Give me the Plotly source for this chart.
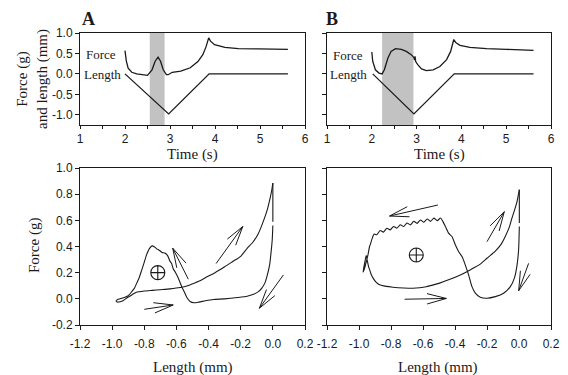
import math
import plotly.graph_objects as go

W, H = 568, 375

# ---------------- tick labels ----------------
time_ticks = [1, 2, 3, 4, 5, 6]
time_ticklabels = ["1", "2", "3", "4", "5", "6"]
top_y_ticks = [-1.0, -0.5, 0.0, 0.5, 1.0]
top_y_ticklabels = ["-1.0", "-0.5", "0.0", "0.5", "1.0"]
len_ticks = [-1.2, -1.0, -0.8, -0.6, -0.4, -0.2, 0.0, 0.2]
len_ticklabels = ["-1.2", "-1.0", "-0.8", "-0.6", "-0.4", "-0.2", "0.0", "0.2"]
force_ticks = [-0.2, 0.0, 0.2, 0.4, 0.6, 0.8, 1.0]
force_ticklabels = ["-0.2", "0.0", "0.2", "0.4", "0.6", "0.8", "1.0"]

# ---------------- panel A time series ----------------
tA_force = [2.0, 2.03, 2.07, 2.15, 2.26, 2.41, 2.5, 2.6, 2.67, 2.735, 2.79, 2.85,
            2.92, 2.96, 3.05, 3.24, 3.45, 3.62, 3.73, 3.8, 3.86, 3.9, 3.99, 4.22,
            4.52, 4.97, 5.62]
A_force = [0.57, 0.31, 0.14, 0.04, 0.0, -0.02, -0.035, 0.1, 0.31, 0.41, 0.31, 0.1,
           -0.02, -0.02, 0.04, 0.07, 0.15, 0.3, 0.47, 0.66, 0.88, 0.8, 0.715, 0.65,
           0.62, 0.61, 0.6]
tA_length = [2.0, 2.97, 3.87, 5.62]
A_length = [0.0, -0.98, 0.0, 0.0]
A_shade = [2.55, 2.88]

# ---------------- panel B time series ----------------
tB_force = [2.0, 2.02, 2.08, 2.16, 2.23, 2.28, 2.36, 2.43, 2.53, 2.66, 2.77, 2.88,
            2.94, 2.955, 2.965, 2.98, 3.03, 3.11, 3.22, 3.37, 3.52, 3.67, 3.76,
            3.83, 3.88, 3.97, 4.19, 4.56, 5.01, 5.61]
B_force = [0.535, 0.31, 0.1, 0.02, 0.0, 0.1, 0.39, 0.55, 0.617, 0.6, 0.55, 0.47,
           0.40, 0.34, 0.43, 0.3, 0.22, 0.12, 0.08, 0.1, 0.18, 0.35, 0.55,
           0.84, 0.76, 0.70, 0.65, 0.617, 0.60, 0.575]
tB_length = [2.02, 2.94, 3.84, 5.61]
B_length = [0.0, -0.98, 0.0, 0.0]
B_shade = [2.23, 2.93]

# ---------------- work loops (force vs length) ----------------
loopA_length = [0.0, -0.004, -0.01, -0.02, -0.035, -0.05, -0.07, -0.09, -0.12, -0.16,
                -0.22, -0.3, -0.37, -0.42, -0.46, -0.49, -0.515, -0.535, -0.55, -0.567,
                -0.588, -0.605, -0.62, -0.63, -0.641, -0.655, -0.672, -0.69, -0.705,
                -0.72, -0.735, -0.75, -0.765, -0.785, -0.80, -0.816, -0.832, -0.847,
                -0.862, -0.878, -0.895, -0.91, -0.93, -0.951, -0.965, -0.975,
                -0.968, -0.95, -0.93, -0.905, -0.878, -0.85, -0.8, -0.75, -0.7, -0.64,
                -0.577, -0.53, -0.494, -0.45, -0.41, -0.36, -0.3, -0.25, -0.2, -0.16,
                -0.12, -0.09, -0.06, -0.035, -0.017, -0.007, 0.0, 0.0]
loopA_force = [0.56, 0.45, 0.37, 0.26, 0.18, 0.12, 0.08, 0.055, 0.035, 0.02,
               0.01, 0.0, -0.005, -0.015, -0.025, -0.03, -0.02, 0.01, 0.05, 0.093,
               0.158, 0.2, 0.23, 0.27, 0.29, 0.33, 0.35, 0.355, 0.37,
               0.38, 0.395, 0.405, 0.39, 0.34, 0.28, 0.22, 0.16, 0.12,
               0.08, 0.055, 0.03, 0.017, 0.008, 0.0, -0.005, -0.015,
               -0.025, -0.022, -0.012, 0.01, 0.03, 0.05, 0.06, 0.065, 0.07, 0.076,
               0.086, 0.1, 0.118, 0.14, 0.168, 0.2, 0.245, 0.285, 0.325, 0.385,
               0.44, 0.5, 0.59, 0.68, 0.77, 0.83, 0.885, 0.59]

loopB_length = [0.002, -0.002, -0.012, -0.029, -0.054, -0.096, -0.148, -0.2, -0.242,
                -0.273, -0.294, -0.315, -0.336, -0.356, -0.377, -0.398, -0.419, -0.44,
                -0.46, -0.475,
                -0.49, -0.511, -0.532, -0.553, -0.574, -0.595, -0.616, -0.637, -0.658,
                -0.679, -0.70, -0.721, -0.742, -0.763, -0.784, -0.805, -0.826, -0.847,
                -0.868, -0.889, -0.905, -0.918,
                -0.928, -0.934, -0.944, -0.955, -0.966, -0.975,
                -0.962, -0.955, -0.948, -0.94, -0.933, -0.925, -0.912, -0.895, -0.871,
                -0.83, -0.788, -0.72, -0.663, -0.62, -0.579, -0.54, -0.496, -0.44,
                -0.367, -0.3, -0.242, -0.2, -0.148, -0.11, -0.086, -0.06, -0.044,
                -0.025, -0.012, 0.002, 0.002]
loopB_force = [0.553, 0.387, 0.26, 0.158, 0.093, 0.043, 0.017, 0.005, 0.012,
               0.043, 0.093, 0.183, 0.26, 0.323, 0.36, 0.413, 0.476, 0.502,
               0.553, 0.59,
               0.618, 0.598, 0.617, 0.592, 0.61, 0.585, 0.603, 0.577, 0.593,
               0.565, 0.58, 0.553, 0.566, 0.54, 0.553, 0.527, 0.54, 0.51,
               0.522, 0.49, 0.495, 0.46,
               0.42, 0.40, 0.336, 0.28, 0.23, 0.205,
               0.29, 0.33, 0.29, 0.245, 0.221, 0.19, 0.158, 0.13, 0.107,
               0.095, 0.089, 0.083, 0.081, 0.085, 0.093, 0.105, 0.12, 0.145,
               0.183, 0.225, 0.265, 0.31, 0.365, 0.42, 0.476, 0.55, 0.617,
               0.69, 0.745, 0.834, 0.58]

# positive work marker (circled plus)
A_plus = (-0.716, 0.2)
B_plus = (-0.642, 0.335)

# direction arrows: (tail length, tail force, head length, head force)
A_arrows = [(-0.80, -0.08, -0.62, -0.047),
            (-0.526, 0.15, -0.623, 0.387),
            (-0.353, 0.27, -0.187, 0.553),
            (0.066, 0.183, -0.084, -0.072)]
B_arrows = [(-0.715, -0.003, -0.454, 0.003),
            (-0.507, 0.717, -0.809, 0.633),
            (-0.2, 0.437, -0.092, 0.666),
            (0.06, 0.271, -0.002, 0.062)]

# ---------------- layout geometry (pixels) ----------------
XA = (80, 305)
XB = (327, 551)
YTOP = (33, 125)
YBOT = (168, 325)

def xdom(p):
    return [p[0] / W, p[1] / W]

def ydom(p):
    return [1 - p[1] / H, 1 - p[0] / H]

def px(x):
    return x / W

def py(y):
    return 1 - y / H

INK = "#1a1a1a"
SANS = "Liberation Sans, Arial, sans-serif"
SERIF = "Liberation Serif, Times New Roman, serif"

fig = go.Figure()

line_style = dict(color=INK, width=1.3)
loop_style = dict(color=INK, width=1.1, shape="spline", smoothing=0.6)

# time series
fig.add_trace(go.Scatter(x=tA_force, y=A_force, mode="lines", line=line_style, xaxis="x", yaxis="y"))
fig.add_trace(go.Scatter(x=tA_length, y=A_length, mode="lines", line=line_style, xaxis="x", yaxis="y"))
fig.add_trace(go.Scatter(x=tB_force, y=B_force, mode="lines", line=line_style, xaxis="x2", yaxis="y2"))
fig.add_trace(go.Scatter(x=tB_length, y=B_length, mode="lines", line=line_style, xaxis="x2", yaxis="y2"))

# loops
fig.add_trace(go.Scatter(x=loopA_length[:-1], y=loopA_force[:-1], mode="lines", line=loop_style, xaxis="x3", yaxis="y3"))
fig.add_trace(go.Scatter(x=loopB_length[:-1], y=loopB_force[:-1], mode="lines", line=loop_style, xaxis="x4", yaxis="y4"))
# relaxation segment at end of lengthening
fig.add_trace(go.Scatter(x=loopA_length[-2:], y=loopA_force[-2:], mode="lines", line=dict(color=INK, width=1.1), xaxis="x3", yaxis="y3"))
fig.add_trace(go.Scatter(x=loopB_length[-2:], y=loopB_force[-2:], mode="lines", line=dict(color=INK, width=1.1), xaxis="x4", yaxis="y4"))

# circled plus
for xa, ya, pt in (("x3", "y3", A_plus), ("x4", "y4", B_plus)):
    fig.add_trace(go.Scatter(x=[pt[0]], y=[pt[1]], mode="markers",
                             marker=dict(symbol="circle-cross-open", size=14, color=INK, line=dict(width=1.1)),
                             xaxis=xa, yaxis=ya))

# arrows drawn as shaft + two long barbs
len_range = [-1.2, 0.2]
force_range = [-0.2, 1.0]

def arrow_xy(arrows, xpix, ypix, blen=20.0, ang=math.radians(15)):
    sx = (xpix[1] - xpix[0]) / (len_range[1] - len_range[0])
    sy = (ypix[1] - ypix[0]) / (force_range[1] - force_range[0])
    xs, ys = [], []
    for tx, ty, hx, hy in arrows:
        th = math.atan2((hy - ty) * sy, (hx - tx) * sx)
        xs += [tx, hx, None]
        ys += [ty, hy, None]
        for s in (1, -1):
            a = th + math.pi + s * ang
            xs += [hx + blen * math.cos(a) / sx, hx, None]
            ys += [hy + blen * math.sin(a) / sy, hy, None]
    return xs, ys

ax_, ay_ = arrow_xy(A_arrows, XA, YBOT)
fig.add_trace(go.Scatter(x=ax_, y=ay_, mode="lines", line=dict(color=INK, width=1), xaxis="x3", yaxis="y3"))
bx_, by_ = arrow_xy(B_arrows, XB, YBOT)
fig.add_trace(go.Scatter(x=bx_, y=by_, mode="lines", line=dict(color=INK, width=1), xaxis="x4", yaxis="y4"))

# shaded stimulation windows
for xr, yr, sh in (("x", "y", A_shade), ("x2", "y2", B_shade)):
    fig.add_shape(type="rect", xref=xr, yref=yr + " domain", x0=sh[0], x1=sh[1], y0=0, y1=1,
                  fillcolor="#c2c2c2", line=dict(width=0), layer="below")

axis_common = dict(showline=True, linecolor=INK, linewidth=1, mirror=True, ticks="outside",
                   tickwidth=1, tickcolor=INK, showgrid=False, zeroline=False,
                   automargin=False, tickfont=dict(family=SANS, size=12, color=INK))

fig.update_layout(
    template="none",
    width=W, height=H, margin=dict(l=0, r=0, t=0, b=0, pad=0),
    paper_bgcolor="white", plot_bgcolor="white", showlegend=False,
    xaxis=dict(domain=xdom(XA), range=[1, 6], tickvals=time_ticks, ticktext=time_ticklabels, ticklen=3,
               minor=dict(dtick=0.5, tick0=1, ticks="outside", ticklen=3, tickcolor=INK),
               anchor="y", **axis_common),
    yaxis=dict(domain=ydom(YTOP), range=[-1.25, 1.0], tickvals=top_y_ticks, ticktext=top_y_ticklabels,
               ticklen=4, anchor="x", **axis_common),
    xaxis2=dict(domain=xdom(XB), range=[1, 6], tickvals=time_ticks, ticktext=time_ticklabels, ticklen=3,
                minor=dict(dtick=0.5, tick0=1, ticks="outside", ticklen=3, tickcolor=INK),
                anchor="y2", **axis_common),
    yaxis2=dict(domain=ydom(YTOP), range=[-1.25, 1.0], tickvals=top_y_ticks, showticklabels=False,
                ticklen=4, anchor="x2", **axis_common),
    xaxis3=dict(domain=xdom(XA), range=len_range, tickvals=len_ticks, ticktext=len_ticklabels,
                ticklen=4, ticklabelstandoff=4, anchor="y3", **axis_common),
    yaxis3=dict(domain=ydom(YBOT), range=force_range, tickvals=force_ticks, ticktext=force_ticklabels,
                ticklen=4, anchor="x3", **axis_common),
    xaxis4=dict(domain=xdom(XB), range=len_range, tickvals=len_ticks, ticktext=len_ticklabels,
                ticklen=4, ticklabelstandoff=4, anchor="y4", **axis_common),
    yaxis4=dict(domain=ydom(YBOT), range=force_range, tickvals=force_ticks, showticklabels=False,
                ticklen=4, anchor="x4", **axis_common),
)

def note(text, x, y, size=15, xanchor="center", angle=0, bold=False):
    fig.add_annotation(text=("<b>%s</b>" % text) if bold else text, x=px(x), y=py(y),
                       xref="paper", yref="paper", showarrow=False, xanchor=xanchor, yanchor="middle",
                       textangle=angle, font=dict(family=SERIF, size=size, color=INK))

note("A", 88, 19, size=18, bold=True)
note("B", 332, 19, size=18, bold=True)
note("Force", 84, 54, size=13, xanchor="left")
note("Length", 82, 74, size=13, xanchor="left")
note("Force", 331, 55, size=13, xanchor="left")
note("Length", 328, 74, size=13, xanchor="left")
note("Force (g)<br>and length (mm)", 32, 79, size=15, angle=-90)
note("Force (g)", 34, 246, size=15, angle=-90)
note("Time (s)", 192, 154, size=15)
note("Time (s)", 439, 154, size=15)
note("Length (mm)", 193, 367, size=15)
note("Length (mm)", 438, 367, size=15)

fig.write_html("out.html", config={"displayModeBar": False},
               post_script="document.body.style.margin='0';document.body.style.overflow='hidden';")
